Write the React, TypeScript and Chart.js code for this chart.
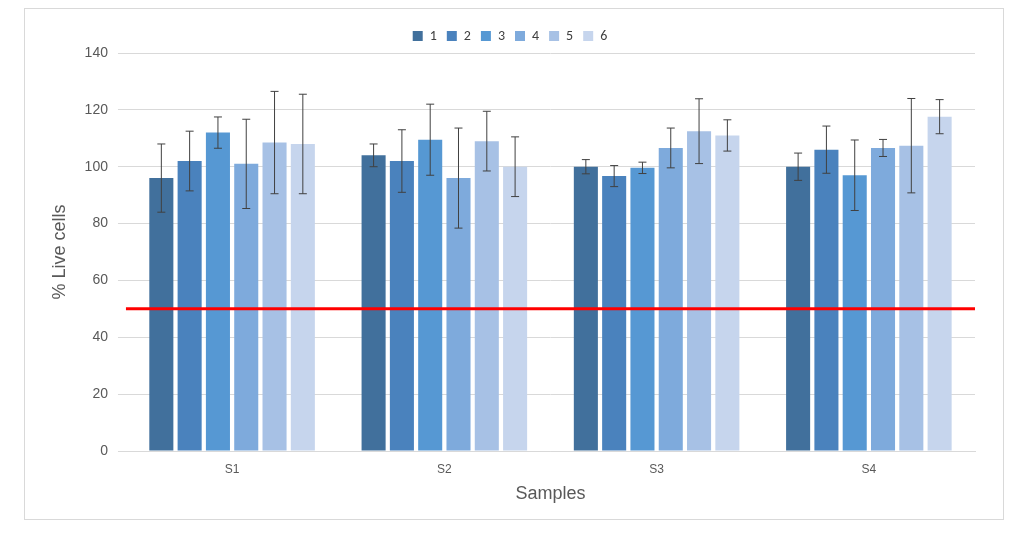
import React, { useEffect, useRef } from "react";
import { Chart, registerables } from "chart.js";
Chart.register(...registerables);

const categories = ["S1", "S2", "S3", "S4"];
const seriesNames = ["1", "2", "3", "4", "5", "6"];
const values = [
  [96, 104, 100, 100],
  [102, 102, 96.7, 106],
  [112, 109.5, 99.6, 97],
  [101, 96, 106.6, 106.6],
  [108.5, 109, 112.5, 107.4],
  [108, 100, 111, 117.6],
];
const errors = [
  [12, 4, 2.5, 4.8],
  [10.5, 11, 3.7, 8.3],
  [5.5, 12.5, 2, 12.4],
  [15.7, 17.6, 7, 3],
  [18, 10.5, 11.4, 16.6],
  [17.5, 10.5, 5.5, 6],
];
const threshold = 50;
const colors = ["#41709c", "#4a82bd", "#5698d3", "#7eaadc", "#a7c1e5", "#c6d5ed"];

const extras = {
  id: "extras",
  afterDatasetsDraw(chart: any) {
    const ctx = chart.ctx;
    const y = chart.scales.y;
    ctx.save();
    ctx.strokeStyle = "#404040";
    ctx.lineWidth = 1;
    chart.data.datasets.forEach((ds: any, i: number) => {
      const meta = chart.getDatasetMeta(i);
      meta.data.forEach((bar: any, j: number) => {
        const v = ds.data[j], e = errors[i][j];
        const x = bar.x;
        const t = y.getPixelForValue(v + e), b = y.getPixelForValue(v - e);
        ctx.beginPath();
        ctx.moveTo(x, t); ctx.lineTo(x, b);
        ctx.moveTo(x - 4, t); ctx.lineTo(x + 4, t);
        ctx.moveTo(x - 4, b); ctx.lineTo(x + 4, b);
        ctx.stroke();
      });
    });
    const ly = y.getPixelForValue(threshold);
    ctx.strokeStyle = "#ff0000";
    ctx.lineWidth = 3;
    ctx.beginPath();
    ctx.moveTo(chart.chartArea.left, ly);
    ctx.lineTo(chart.chartArea.right, ly);
    ctx.stroke();
    ctx.restore();
  },
};

export default function App() {
  const ref = useRef<HTMLCanvasElement>(null);
  useEffect(() => {
    const chart = new Chart(ref.current!, {
      type: "bar",
      data: {
        labels: categories,
        datasets: seriesNames.map((n, i) => ({
          label: n,
          data: values[i],
          backgroundColor: colors[i],
          categoryPercentage: 0.8,
          barPercentage: 0.85,
        })),
      },
      options: {
        animation: false,
        responsive: true,
        maintainAspectRatio: false,
        layout: { padding: { left: 20, right: 28, top: 10, bottom: 10 } },
        plugins: {
          legend: {
            labels: { boxWidth: 10, boxHeight: 10, font: { family: "Calibri, Carlito, Liberation Sans", size: 14 }, color: "#404040" },
          },
          tooltip: { enabled: false },
        },
        scales: {
          x: {
            grid: { display: false },
            border: { color: "#d9d9d9" },
            ticks: { color: "#595959", font: { size: 12 } },
            title: { display: true, text: "Samples", color: "#595959", font: { size: 18 } },
          },
          y: {
            min: 0, max: 140,
            ticks: { stepSize: 20, color: "#595959", font: { size: 14 }, padding: 10 },
            grid: { color: "#d9d9d9" },
            border: { display: false },
            title: { display: true, text: "% Live cells", color: "#595959", font: { size: 18 } },
          },
        },
      },
      plugins: [extras],
    });
    return () => chart.destroy();
  }, []);
  return (
    <div style={{ marginLeft: 16, width: 978, height: 510, border: "1px solid #d9d9d9", fontFamily: "Liberation Sans" }}>
      <canvas ref={ref} />
    </div>
  );
}
